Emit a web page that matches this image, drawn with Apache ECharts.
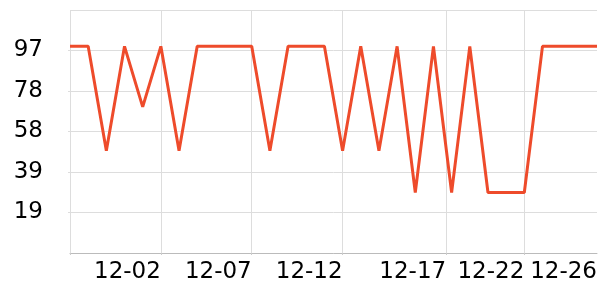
<!DOCTYPE html>
<html>
<head>
<meta charset="utf-8">
<script src="https://cdn.jsdelivr.net/npm/echarts@6/dist/echarts.min.js"></script>
<style>
html,body{margin:0;padding:0;background:#fff;}
#chart{width:600px;height:300px;}
</style>
</head>
<body>
<div id="chart"></div>
<script>
// First day of the daily series and its values
const startDate = [2023, 11, 27];
const values = [99, 99, 49, 99, 70, 99, 49, 99, 99, 99,
                99, 49, 99, 99, 99, 49, 99, 49, 99, 29,
                99, 29, 99, 29, 29, 29, 99, 99, 99, 99];
// x ticks / split lines and labels, as day offsets from startDate
const tickDays = [0, 5, 10, 15, 20.7, 25];
const labelDays = [5, 10, 15, 20.7, 25, 29];
// y axis
const yMax = 116.4;
const yInterval = 19.4;

const DAY = 86400000;
const t0 = Date.UTC(startDate[0], startDate[1] - 1, startDate[2]);
const seriesData = values.map((v, i) => [i, v]);
const pad = n => (n < 10 ? '0' : '') + n;
function dayLabel(off) {
  const d = new Date(t0 + Math.floor(off) * DAY);
  return pad(d.getUTCMonth() + 1) + '-' + pad(d.getUTCDate());
}

const chart = echarts.init(document.getElementById('chart'));
chart.setOption({
  animation: false,
  grid: { left: 70, right: 2, top: 10, bottom: 47 },
  xAxis: {
    type: 'value',
    min: 0,
    max: values.length - 1,
    axisLine: { show: true, lineStyle: { color: '#bbbbbb', width: 1 } },
    axisTick: { show: true, length: 2, lineStyle: { color: '#cccccc' }, customValues: tickDays },
    splitLine: { show: true, lineStyle: { color: '#dddddd', width: 1 } },
    axisLabel: {
      customValues: labelDays,
      align: 'right',
      margin: 8,
      fontFamily: 'DejaVu Sans',
      fontSize: 23,
      color: '#000',
      formatter: v => dayLabel(v)
    }
  },
  yAxis: {
    type: 'value',
    min: 0,
    max: yMax,
    interval: yInterval,
    axisLine: { show: false },
    axisTick: { show: true, length: 2, lineStyle: { color: '#dddddd' } },
    splitLine: { show: true, lineStyle: { color: '#dddddd', width: 1 } },
    axisLabel: {
      showMinLabel: false,
      showMaxLabel: false,
      margin: 27,
      fontFamily: 'DejaVu Sans',
      fontSize: 23,
      color: '#000',
      formatter: v => Math.round(v)
    }
  },
  series: [{
    type: 'line',
    data: seriesData,
    showSymbol: false,
    symbol: 'none',
    lineStyle: { color: '#ee4b2b', width: 3 }
  }]
});
</script>
</body>
</html>
